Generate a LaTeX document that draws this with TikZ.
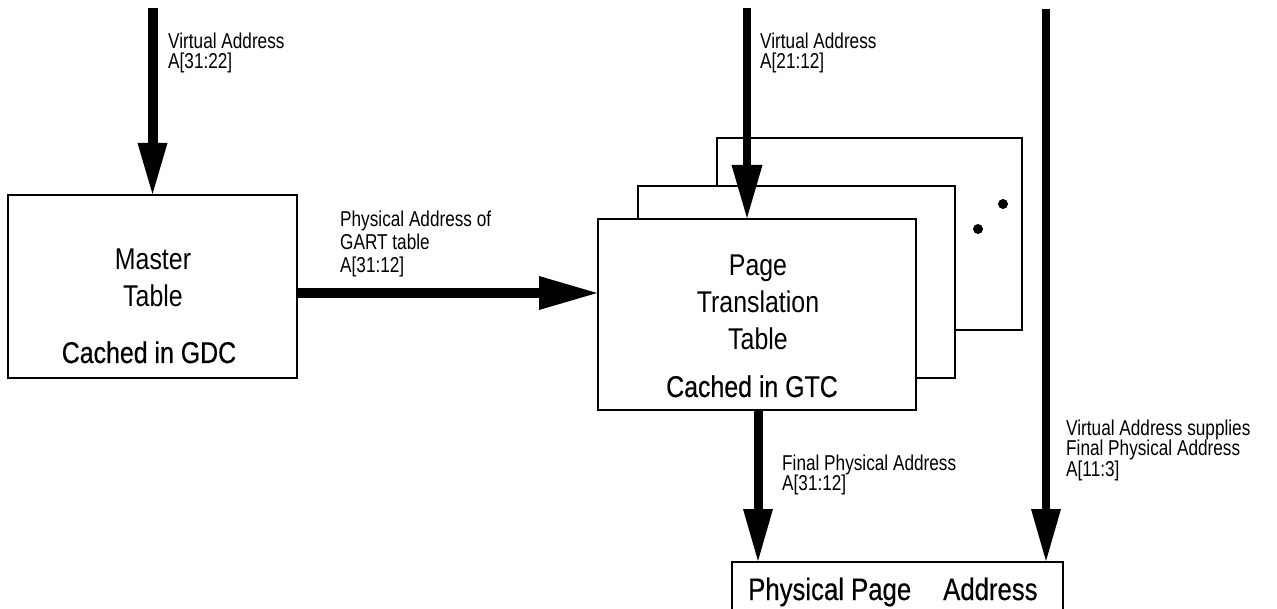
\documentclass[tikz,border=0pt]{standalone}
\usepackage{fontspec}
\setmainfont[FakeStretch=0.83]{Liberation Sans}
\newfontfamily\medfont[FakeStretch=0.83,FakeBold=0.4]{Liberation Sans}
\newfontfamily\narrowfont[FakeStretch=0.8]{Liberation Sans}
\usetikzlibrary{arrows.meta}
\newcommand\myLblFont{\narrowfont\fontsize{21.5}{20.2}\selectfont\relax}
\newcommand\myWideFont{\narrowfont\fontsize{21.5}{23}\selectfont\relax}
\begin{document}
\begin{tikzpicture}[x=1pt,y=-1pt,
  box/.style={draw, line width=2pt, fill=white, inner sep=0pt},
  bigarrow/.style={line width=9pt, -{Triangle[length=52pt,width=30pt,line width=0pt]}},
  harrow/.style={line width=10.5pt, -{Triangle[length=58pt,width=34pt,line width=0pt]}},
  lbl/.style={font=\myLblFont, inner sep=0pt, anchor=north west, align=left},
  lblwide/.style={font=\myWideFont, inner sep=0pt, anchor=north west, align=left},
  title/.style={font=\fontsize{30}{30}\selectfont, inner sep=0pt, anchor=base},
  cached/.style={font=\fontsize{30}{30}\medfont, inner sep=0pt, anchor=base},
  phystext/.style={font=\fontsize{31}{31}\medfont, inner sep=0pt, anchor=base west}]
\useasboundingbox (0,0) rectangle (1277,609);

% boxes
\node[box, minimum width=289pt, minimum height=183pt] (master) at (152.5,286.5) {};
\node[box, minimum width=305pt, minimum height=192pt] (back) at (869.5,234) {};
\node[box, minimum width=317pt, minimum height=192pt] (mid) at (796.5,282) {};
\node[box, minimum width=318pt, minimum height=191pt] (front) at (757,314.5) {};
\node[box, minimum width=331pt, minimum height=100pt] (phys) at (897.5,612) {};

% dots on the back tables
\fill (1003,204) circle (5pt);
\fill (978,229) circle (5pt);

% texts in boxes
\node[title] (mt1) at (153,270) {Master};
\node[title] (mt2) at (153,307) {Table};
\node[cached] (mt3) at (149,363) {Cached in GDC};
\node[title] (pt1) at (758,276) {Page};
\node[title] (pt2) at (758,313) {Translation};
\node[title] (pt3) at (758,350) {Table};
\node[cached] (pt4) at (752,397) {Cached in GTC};
\node[phystext] (ph1) at (748,600) {Physical Page};
\node[phystext] (ph2) at (943,600) {Address};

% connectors
\coordinate (t1) at (152.5,8);
\coordinate (t2) at (747,8);
\coordinate (t3) at (1046,9);
\coordinate (h) at (0,293);
\coordinate (b1) at (758,0);
\draw[bigarrow, line width=10pt, -{Triangle[length=51pt,width=30pt,line width=0pt]}] (t1) -- (t1 |- master.north);
\draw[harrow] (master.east |- h) -- (front.west |- h);
\draw[bigarrow, line width=8pt, -{Triangle[length=53pt,width=31pt,line width=0pt]}] (t2) -- (t2 |- front.north);
\draw[bigarrow] (b1 |- front.south) -- (b1 |- phys.north);
\draw[bigarrow, line width=8pt] (t3) -- (t3 |- phys.north);

% connector labels
\node[lbl] (l1) at (168,33) {Virtual Address\\A[31:22]};
\node[lbl] (l2) at (760,33) {Virtual Address\\A[21:12]};
\node[lblwide] (l3) at (340,211) {Physical Address of\\GART table\\A[31:12]};
\node[lbl] (l4) at (782,455) {Final Physical Address\\A[31:12]};
\node[lbl] (l5) at (1066,420) {Virtual Address supplies\\Final Physical Address\\A[11:3]};
\end{tikzpicture}
\end{document}
